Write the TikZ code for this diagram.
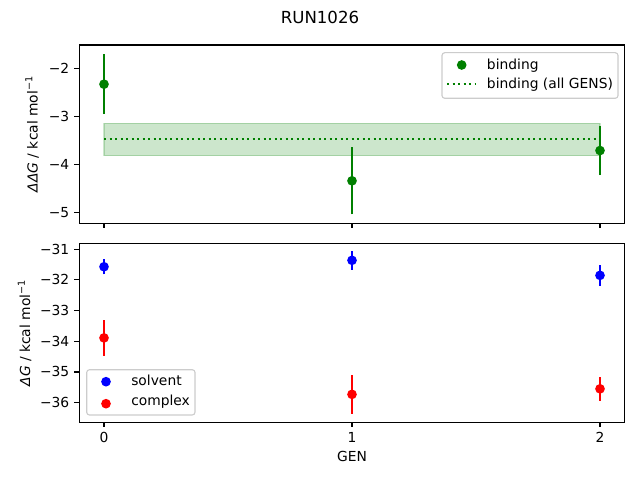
\documentclass[tikz,border=0pt]{standalone}
\usepackage{fontspec}
\setmainfont{DejaVu Sans}
\definecolor{mplgreen}{rgb}{0,0.5,0}
\definecolor{mplblue}{rgb}{0,0,1}
\definecolor{mplred}{rgb}{1,0,0}
\begin{document}
\begin{tikzpicture}[x=1in, y=1in,
    axisframe/.style={line width=0.8pt},
    tickmark/.style={line width=0.8pt},
    errbar/.style={line width=1.5pt},
    legendbox/.style={draw=black!20, fill=white, fill opacity=0.8, rounded corners=2pt, line width=0.8pt},
    ticklabel/.style={font=\fontsize{10}{12}\selectfont, inner sep=0pt},
    axislabel/.style={font=\fontsize{10}{12}\selectfont, inner sep=0pt}]
    \useasboundingbox (0,0) rectangle (6.4,4.8);

    % title
    \node[font=\fontsize{12}{14}\selectfont, inner sep=0pt] (title) at (3.2,4.63) {RUN1026};

    % binding (top panel)
    \begin{scope}[shift={(1.04in,5.078in)}, x=2.48in, y=0.4807in]
        \filldraw [fill=mplgreen, draw=mplgreen, fill opacity=0.2, draw opacity=0.2, line width=0.8pt] (0,-3.82) rectangle (2,-3.14);
        \draw [mplgreen, line width=1.5pt, dash pattern=on 1.5pt off 2.475pt] (0,-3.47) -- (2,-3.47);
        \foreach \gx/\gy/\ge in {0/-2.33/0.62, 1/-4.34/0.70, 2/-3.71/0.51} {
            \draw [errbar, mplgreen] (\gx,\gy-\ge) -- (\gx,\gy+\ge);
            \fill [mplgreen] (\gx,\gy) circle (3.5pt);
        }
        \draw [axisframe] (-0.1,-5.22) rectangle (2.1,-1.515);
        \foreach \gx in {0,1,2}
            \draw [tickmark] (\gx,-5.22) -- ++(0,-3.5pt);
        \foreach \gy in {-2,-3,-4,-5} {
            \draw [tickmark] (-0.1,\gy) -- ++(-3.5pt,0);
            \node [ticklabel, anchor=east] at ([xshift=-7pt]-0.1,\gy) {−\the\numexpr-\gy\relax};
        }
    \end{scope}
    \node [axislabel, rotate=90, anchor=base] (ddglabel) at (0.375,3.46) {\textit{ΔΔG} / kcal mol\textsuperscript{−1}};

    % legend (top panel)
    \draw [legendbox] (4.42,3.817) rectangle (6.18,4.273);
    \fill [mplgreen] (4.617,4.15) circle (3.5pt);
    \node [axislabel, anchor=base west] (bindleg) at (4.867,4.107) {binding};
    \draw [mplgreen, line width=1.5pt, dash pattern=on 1.5pt off 2.475pt] (4.47,3.957) -- (4.75,3.957);
    \node [axislabel, anchor=base west] (allleg) at (4.867,3.913) {binding (all GENS)};

    % solvent and complex (bottom panel)
    \begin{scope}[shift={(1.04in,11.815in)}, x=2.48in, y=0.3067in]
        \foreach \gx/\gy/\ge in {0/-31.57/0.245, 1/-31.36/0.30, 2/-31.85/0.34} {
            \draw [errbar, mplblue] (\gx,\gy-\ge) -- (\gx,\gy+\ge);
            \fill [mplblue] (\gx,\gy) circle (3.5pt);
        }
        \foreach \gx/\gy/\ge in {0/-33.89/0.58, 1/-35.73/0.63, 2/-35.55/0.39} {
            \draw [errbar, mplred] (\gx,\gy-\ge) -- (\gx,\gy+\ge);
            \fill [mplred] (\gx,\gy) circle (3.5pt);
        }
        \draw [axisframe] (-0.1,-36.64) rectangle (2.1,-30.80);
        \foreach \gx in {0,1,2} {
            \draw [tickmark] (\gx,-36.64) -- ++(0,-3.5pt);
            \node [ticklabel, anchor=north] at ([yshift=-7pt]\gx,-36.64) {\gx};
        }
        \foreach \gy in {-31,-32,-33,-34,-35,-36} {
            \draw [tickmark] (-0.1,\gy) -- ++(-3.5pt,0);
            \node [ticklabel, anchor=east] at ([xshift=-7pt]-0.1,\gy) {−\the\numexpr-\gy\relax};
        }
    \end{scope}
    \node [axislabel, rotate=90, anchor=base] (dglabel) at (0.30,1.47) {\textit{ΔG} / kcal mol\textsuperscript{−1}};
    \node [axislabel] (genlabel) at (3.52,0.233) {GEN};

    % legend (bottom panel)
    \draw [legendbox] (0.867,0.65) rectangle (1.95,1.103);
    \fill [mplblue] (1.06,0.983) circle (3.5pt);
    \node [axislabel, anchor=base west] (solvleg) at (1.31,0.947) {solvent};
    \fill [mplred] (1.06,0.763) circle (3.5pt);
    \node [axislabel, anchor=base west] (compleg) at (1.31,0.743) {complex};
\end{tikzpicture}
\end{document}
